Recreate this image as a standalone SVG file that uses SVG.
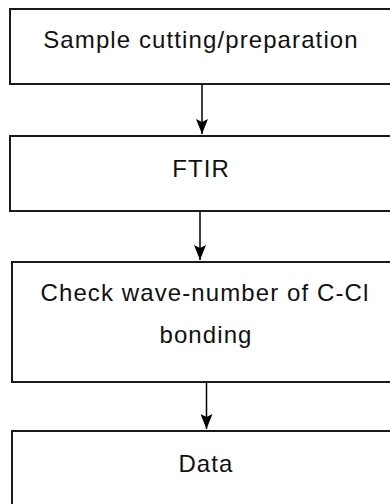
<svg xmlns="http://www.w3.org/2000/svg" width="390" height="504" viewBox="0 0 390 504">
<style>
.box{fill:#fff;stroke:#1a1a1a;stroke-width:2}
.t{font-family:"Liberation Sans",Arial,sans-serif;font-size:24px;fill:#111;text-anchor:middle;letter-spacing:1.1px}
.c{stroke:#000;stroke-width:1.5;fill:none}
</style>
<defs>
<marker id="ah" viewBox="0 0 15 12" refX="15" refY="6" markerWidth="15" markerHeight="12" markerUnits="userSpaceOnUse" orient="auto">
<path d="M0,0 L15,6 L0,12 L3,6 Z" fill="#000"/>
</marker>
</defs>
<rect width="390" height="504" fill="#fff"/>
<g id="n1"><rect class="box" x="10" y="9" width="400" height="75"/><text class="t" x="201" y="48">Sample cutting/preparation</text></g>
<g id="n2"><rect class="box" x="10" y="136" width="400" height="75"/><text class="t" x="201" y="177">FTIR</text></g>
<g id="n3"><rect class="box" x="12" y="262" width="400" height="120"/><text class="t" x="205" y="301">Check wave-number of C-Cl</text><text class="t" x="206" y="343">bonding</text></g>
<g id="n4"><rect class="box" x="12" y="431" width="400" height="100"/><text class="t" x="206" y="472">Data</text></g>
<g id="connectors">
<line class="c" x1="202" y1="85" x2="202" y2="134" marker-end="url(#ah)"/>
<line class="c" x1="200" y1="212" x2="200" y2="260" marker-end="url(#ah)"/>
<line class="c" x1="206.5" y1="383" x2="206.5" y2="429" marker-end="url(#ah)"/>
</g>
</svg>
